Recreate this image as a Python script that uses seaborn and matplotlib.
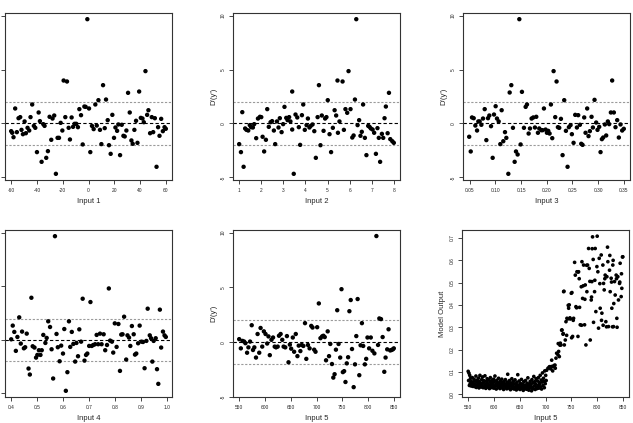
import matplotlib
matplotlib.use("Agg")
import matplotlib.pyplot as plt
import seaborn as sns

# data
input1 = [-60.0, -59.2, -58.2, -56.9, -55.6, -54.3, -53.0, -52.0, -50.9, -49.6, -48.6, -47.3, -46.0, -45.0, -43.7,
          -42.4, -41.3, -40.0, -38.7, -37.7, -36.4, -35.1, -34.1, -32.8, -31.5, -30.2, -28.9, -27.9, -26.6, -25.3,
          -24.0, -22.9, -21.6, -20.3, -19.3, -18.0, -16.7, -15.4, -14.4, -13.1, -12.0, -10.8, -9.5, -8.2, -7.1,
          -5.8, -4.5, -3.2, -2.2, -0.9, 0.4, 1.4, 2.7, 4.0, 5.3, 6.4, 7.7, 8.9, 10.0, 11.3, 12.6, 13.6, 14.9,
          15.9, 17.2, 18.5, 19.8, 20.9, 22.2, 23.2, 24.5, 25.8, 27.1, 28.1, 29.4, 30.7, 32.0, 33.3, 34.3, 35.6,
          36.9, 38.0, 39.3, 40.6, 41.9, 42.9, 44.2, 45.5, 46.5, 47.8, 49.1, 50.2, 51.5, 52.8, 54.0, 55.1, 56.4,
          57.7, 59.0, 60.0]
dprime1 = [-0.71, -0.86, -1.27, 1.39, -0.80, 0.49, 0.59, -0.59, -0.99, 0.19, -0.90, -0.40, -0.65, 0.59, 1.76,
           -0.22, -0.40, -2.65, 1.02, 0.22, -3.55, -0.06, -0.22, -3.18, -2.56, 0.62, -1.51, 0.46, 0.74, -4.66,
           -1.33, -1.33, 0.06, -0.65, 3.98, 0.59, 3.89, -0.40, -1.48, 0.56, -0.31, -0.03, -0.03, -0.34, 1.33,
           0.77, -1.94, 1.57, 1.54, 9.66, 1.39, -2.65, -0.22, -0.52, 1.76, -0.19, 2.16, -0.59, -1.91, 3.55, -0.43,
           2.22, 0.31, -2.01, -2.81, 0.80, -1.33, -0.37, -0.68, -0.09, -2.93, -0.12, -1.14, -1.20, -0.65, 2.84,
           1.02, -1.57, -1.88, -0.59, 0.25, -1.79, 2.96, 0.52, 0.46, 0.12, 4.85, 0.80, 1.23, -0.90, 0.59, -0.80,
           0.49, -4.01, -0.34, -1.14, 0.43, -0.71, -0.34, -0.49]

input2 = [1.00, 1.08, 1.14, 1.20, 1.27, 1.33, 1.41, 1.48, 1.54, 1.62, 1.68, 1.77, 1.85, 1.94, 2.00, 2.06, 2.13,
          2.21, 2.27, 2.34, 2.42, 2.49, 2.57, 2.63, 2.71, 2.78, 2.84, 2.92, 2.99, 3.05, 3.13, 3.19, 3.26, 3.32,
          3.40, 3.40, 3.47, 3.55, 3.63, 3.70, 3.76, 3.84, 3.90, 3.97, 4.05, 4.11, 4.18, 4.24, 4.32, 4.40, 4.47,
          4.55, 4.61, 4.68, 4.74, 4.82, 4.89, 4.95, 5.01, 5.09, 5.16, 5.24, 5.32, 5.39, 5.45, 5.47, 5.54, 5.68,
          5.74, 5.81, 5.89, 5.95, 6.04, 6.12, 6.18, 6.24, 6.30, 6.36, 6.43, 6.49, 6.55, 6.61, 6.69, 6.76, 6.84,
          6.90, 6.96, 7.04, 7.11, 7.19, 7.26, 7.32, 7.38, 7.46, 7.52, 7.58, 7.64, 7.72, 7.78, 7.84, 7.93, 8.00]
dprime2 = [-1.91, -2.65, 1.05, -4.01, -0.46, -0.59, -0.65, -0.15, -0.34, -0.37, -0.06, -1.36, 0.46, 0.62, 0.59,
           -1.23, -2.59, -1.51, 1.33, -0.31, 0.12, 0.22, -0.65, -1.91, 0.19, -0.37, 0.49, -0.80, -0.06, 1.54,
           0.52, 0.31, 0.59, 0.19, -0.56, 2.96, -4.66, 0.83, 0.56, -0.34, -1.98, 0.77, 1.76, -0.59, -0.15, 0.46,
           -0.37, -0.22, -0.09, -0.71, -3.18, 0.59, 3.55, -2.01, 0.74, -0.68, 0.46, 0.59, 2.16, -0.99, -2.65,
           -0.40, 1.23, 0.74, 3.98, -0.86, 0.19, 3.89, -0.59, 1.33, 0.99, 4.85, 1.33, -1.30, -1.11, 2.22, 9.66,
           -0.15, 0.31, -1.14, -0.77, 1.76, -1.33, -2.93, -0.22, -0.31, -0.46, -0.56, -0.86, -2.81, -0.43, -1.33,
           -3.55, -0.96, -1.33, 0.49, 1.57, -0.90, 2.84, -1.45, -1.64, -1.79]

input3 = [0.049, 0.052, 0.0545, 0.0578, 0.0610, 0.0643, 0.0668, 0.0694, 0.0727, 0.0759, 0.0792, 0.0824, 0.0856,
          0.0882, 0.0915, 0.0947, 0.0973, 0.1005, 0.1031, 0.1064, 0.1096, 0.1122, 0.1154, 0.1187, 0.1213, 0.1252,
          0.1278, 0.1310, 0.1342, 0.1375, 0.1401, 0.1433, 0.1466, 0.1491, 0.1517, 0.1556, 0.1589, 0.1615, 0.1647,
          0.1673, 0.1705, 0.1738, 0.1770, 0.1796, 0.1828, 0.1854, 0.1893, 0.1919, 0.1945, 0.1977, 0.2003, 0.2029,
          0.2055, 0.2081, 0.2107, 0.2133, 0.2165, 0.2191, 0.2217, 0.2243, 0.2276, 0.2308, 0.2340, 0.2373, 0.2405,
          0.2431, 0.2463, 0.2489, 0.2522, 0.2554, 0.2587, 0.2612, 0.2645, 0.2671, 0.2697, 0.2729, 0.2755, 0.2787,
          0.2813, 0.2839, 0.2872, 0.2898, 0.2930, 0.2962, 0.2988, 0.3021, 0.3047, 0.3073, 0.3098, 0.3131, 0.3157,
          0.3189, 0.3215, 0.3248, 0.3273, 0.3306, 0.3338, 0.3371, 0.3403, 0.3436, 0.3468, 0.3500]
dprime3 = [-1.23, -2.59, 0.56, 0.49, -0.19, -0.65, 0.19, 0.19, -0.12, 0.46, 1.33, -1.54, 0.49, 0.74, -0.25,
           -3.18, 0.83, 1.60, 0.46, 0.19, -1.91, 1.23, -1.64, -0.80, -1.33, -4.66, 2.87, 3.55, -0.40, -3.55,
           -2.59, -2.87, 9.66, -1.94, 2.93, -0.40, 1.54, 1.76, -0.93, -0.46, 0.46, 0.56, -0.37, 0.62, -0.86,
           -0.46, -0.62, -0.62, 1.39, -0.56, -0.86, -0.68, -0.93, 1.76, -1.36, 4.85, 0.59, 3.89, -0.34, -0.40,
           0.43, -2.93, 2.16, -0.68, -4.01, -0.34, -0.15, -0.99, -1.79, 0.80, -0.37, 0.77, -0.12, -1.88, -1.98,
           0.56, -0.86, 1.39, -1.17, -0.71, 0.62, -0.37, 2.19, 0.09, -0.59, -0.31, -2.65, -1.45, -1.30, -0.09,
           -1.11, 0.19, -0.06, 1.02, 3.98, 1.02, -0.34, 0.31, -1.30, -0.09, -0.65, -0.49]

input4 = [0.400, 0.406, 0.412, 0.418, 0.424, 0.431, 0.437, 0.442, 0.449, 0.454, 0.460, 0.467, 0.472, 0.478, 0.483,
          0.490, 0.496, 0.501, 0.507, 0.513, 0.518, 0.524, 0.532, 0.537, 0.543, 0.550, 0.556, 0.562, 0.569, 0.575,
          0.580, 0.587, 0.593, 0.600, 0.605, 0.611, 0.617, 0.623, 0.628, 0.634, 0.640, 0.647, 0.652, 0.658, 0.663,
          0.670, 0.676, 0.683, 0.689, 0.694, 0.701, 0.706, 0.711, 0.717, 0.724, 0.730, 0.736, 0.743, 0.749, 0.757,
          0.763, 0.770, 0.777, 0.782, 0.789, 0.794, 0.800, 0.807, 0.814, 0.820, 0.825, 0.830, 0.836, 0.844, 0.849,
          0.855, 0.860, 0.866, 0.873, 0.878, 0.883, 0.890, 0.896, 0.903, 0.909, 0.915, 0.922, 0.927, 0.935, 0.940,
          0.945, 0.950, 0.958, 0.963, 0.968, 0.974, 0.979, 0.986, 0.992, 0.997]
dprime4 = [0.06, 1.34, 0.75, -1.02, 0.28, 2.11, -0.34, 0.78, -0.78, -0.68, 0.59, -2.67, -3.23, 3.94, -0.59,
           -0.71, -1.65, -1.40, -0.96, -1.40, -0.96, 0.47, -0.28, 0.19, 1.74, 1.21, -0.87, -3.60, 9.69, 0.56,
           -0.68, -1.99, -0.53, -1.27, 1.02, -4.75, -3.01, 1.74, -0.65, 0.75, -0.37, -2.02, -0.28, -1.52, 0.99,
           -0.16, 3.85, -1.93, -1.40, -1.27, -0.56, 3.54, -0.56, -0.47, -0.40, 0.47, -0.40, 0.59, -0.40, 0.53,
           -0.96, -0.47, 4.81, -0.06, -0.16, -1.18, 1.55, -0.65, 1.49, -2.89, 0.50, 0.53, 2.17, -1.83, 0.43,
           0.22, -0.56, 1.30, 0.53, -1.37, -1.27, -0.31, 1.34, -0.16, -0.19, -2.64, -0.09, 2.92, 0.43, 0.16,
           -2.02, -0.09, 0.16, -2.73, -4.10, 2.83, -0.71, 0.78, 0.43, 0.28]

input5 = [550.0, 553.2, 556.4, 559.6, 562.1, 565.3, 567.9, 571.1, 574.3, 576.8, 579.4, 582.6, 585.7, 588.9, 591.5,
          594.7, 597.9, 601.1, 604.3, 606.8, 609.4, 612.6, 615.7, 618.9, 621.5, 624.7, 627.2, 630.4, 633.6, 636.2,
          639.4, 642.6, 645.7, 648.3, 650.9, 654.0, 656.6, 659.8, 663.0, 665.5, 668.7, 671.3, 674.5, 677.7, 680.2,
          683.4, 686.6, 689.8, 692.3, 695.5, 698.1, 701.3, 704.5, 707.7, 710.9, 713.4, 716.0, 718.5, 721.7, 724.3,
          726.8, 730.0, 732.6, 735.1, 737.7, 740.2, 742.8, 746.0, 748.5, 751.1, 753.6, 756.2, 758.7, 761.3, 763.8,
          766.4, 768.9, 772.1, 774.7, 777.2, 779.8, 783.0, 785.5, 788.1, 790.6, 793.8, 796.4, 798.9, 802.1, 805.3,
          808.5, 812.3, 816.2, 819.4, 821.9, 825.1, 828.3, 831.5, 834.0, 837.2, 839.8, 843.0, 845.5, 848.1, 850.0]
dprime5 = [0.28, -0.56, 0.12, 0.06, -0.09, -0.96, -0.47, 0.06, 1.55, -0.71, -0.47, -1.40, 0.75, -0.96, 1.30,
           -0.40, 0.99, 0.75, -0.12, 0.53, -1.18, 0.22, 0.43, -0.40, -0.47, -0.40, 0.59, 0.75, 0.22, -0.40,
           -0.47, 0.56, -1.83, -0.22, -0.59, 0.43, -0.87, 0.75, -1.27, -0.31, -0.81, -0.25, -0.34, 1.74, -1.52,
           -0.25, -0.56, 1.49, 1.34, -0.68, -0.87, 1.37, 3.54, 0.37, 0.53, 0.59, 0.47, -1.65, 0.99, -1.27,
           -0.16, -1.99, -3.23, -2.92, -0.68, 2.92, -0.16, -1.40, 4.84, -2.73, -2.64, -3.63, -1.93, -1.37, 2.83,
           3.85, -0.62, -4.10, -2.02, 0.56, 3.94, -3.01, -0.28, 1.74, -0.34, -2.02, -1.52, 0.43, -0.56, 0.43,
           -0.78, -1.02, 9.69, -0.25, 2.17, 2.11, 0.47, -2.70, -1.40, -0.65, 1.18, -0.75, -0.71, -0.65, -0.56]

input5_out = [550.0, 550.8, 551.5, 552.3, 553.0, 553.9, 554.6, 555.5, 556.2, 557.0, 558.1, 558.8, 559.6, 560.5,
              561.3, 562.2, 563.0, 564.1, 565.0, 565.8, 566.7, 567.5, 568.4, 569.3, 570.2, 571.0, 571.9, 572.8,
              573.6, 574.5, 575.4, 576.3, 577.1, 578.0, 579.0, 579.8, 580.7, 581.6, 582.5, 583.3, 584.2, 585.1,
              586.0, 586.9, 587.7, 588.6, 589.5, 590.4, 591.3, 592.2, 593.0, 593.9, 594.8, 595.7, 596.6, 597.5,
              598.3, 599.2, 600.1, 601.0, 601.9, 602.8, 603.6, 604.5, 605.4, 606.3, 607.2, 608.1, 609.0, 609.8,
              610.7, 611.6, 612.5, 613.4, 614.3, 615.2, 616.0, 616.9, 617.8, 618.7, 619.6, 620.5, 621.4, 622.2,
              623.1, 624.0, 624.9, 625.8, 626.7, 627.6, 628.5, 629.3, 630.2, 631.1, 632.0, 632.9, 633.8, 634.7,
              635.6, 636.4, 637.3, 638.2, 639.1, 640.0, 640.9, 641.8, 642.7, 643.5, 644.4, 645.3, 646.2, 647.1,
              648.0, 648.9, 649.8, 650.6, 651.5, 652.4, 653.3, 654.2, 655.1, 656.0, 656.9, 657.8, 658.6, 659.5,
              660.4, 661.3, 662.2, 663.1, 664.0, 664.9, 665.8, 666.6, 667.5, 668.4, 669.3, 670.2, 671.1, 672.0,
              672.9, 673.7, 674.6, 675.5, 676.4, 677.3, 678.2, 679.1, 680.0, 680.8, 681.7, 682.6, 683.5, 684.4,
              685.3, 686.2, 687.1, 688.0, 688.8, 689.7, 690.6, 691.5, 692.4, 693.3, 694.2, 695.1, 696.0, 696.8,
              697.7, 698.6, 699.5, 700.4, 701.3, 702.3, 704.8, 707.4, 708.7, 710.0, 712.0, 712.6, 713.9, 715.2,
              716.5, 718.4, 719.0, 720.3, 721.6, 724.2, 724.7, 725.5, 726.8, 728.0, 728.7, 730.0, 731.3, 732.0,
              734.0, 734.4, 735.2, 735.8, 736.5, 738.4, 739.7, 741.0, 741.6, 742.9, 744.1, 744.9, 746.1, 747.4,
              748.1, 750.0, 750.7, 751.3, 752.6, 753.8, 754.5, 756.5, 757.8, 759.0, 760.3, 761.0, 763.0, 763.4,
              764.2, 765.4, 766.1, 767.4, 769.4, 770.0, 770.7, 772.0, 773.1, 773.9, 775.8, 776.4, 777.1, 778.4,
              779.7, 780.3, 781.6, 783.6, 784.8, 786.1, 786.8, 788.7, 789.3, 790.0, 790.6, 791.3, 792.5, 793.2,
              795.2, 795.7, 796.4, 797.7, 799.7, 800.3, 801.6, 802.9, 804.2, 805.4, 806.1, 808.1, 808.7, 809.4,
              811.3, 811.8, 812.6, 813.9, 815.1, 815.8, 817.1, 818.4, 819.1, 820.3, 821.0, 822.3, 824.2, 824.8,
              825.5, 827.4, 828.1, 828.7, 830.0, 830.6, 831.2, 831.9, 832.5, 833.9, 835.2, 837.1, 837.7, 838.4,
              838.9, 840.3, 841.6, 843.6, 844.1, 844.8, 846.8, 847.4, 848.1, 849.3, 850.0]
model_output = [0.103, 0.062, 0.095, 0.040, 0.085, 0.048, 0.072, 0.038, 0.058, 0.041, 0.075, 0.036, 0.052, 0.044,
                0.068, 0.035, 0.060, 0.043, 0.082, 0.031, 0.055, 0.064, 0.038, 0.047, 0.073, 0.029, 0.057, 0.085,
                0.040, 0.050, 0.033, 0.066, 0.045, 0.078, 0.030, 0.054, 0.061, 0.036, 0.083, 0.044, 0.027, 0.058,
                0.039, 0.070, 0.048, 0.032, 0.064, 0.041, 0.026, 0.055, 0.075, 0.035, 0.047, 0.062, 0.030, 0.051,
                0.040, 0.068, 0.028, 0.057, 0.082, 0.037, 0.046, 0.024, 0.063, 0.042, 0.053, 0.031, 0.072, 0.038,
                0.049, 0.026, 0.060, 0.035, 0.045, 0.068, 0.029, 0.052, 0.040, 0.022, 0.058, 0.037, 0.047, 0.066,
                0.030, 0.043, 0.025, 0.055, 0.090, 0.034, 0.048, 0.028, 0.062, 0.039, 0.021, 0.051, 0.036, 0.070,
                0.027, 0.044, 0.058, 0.032, 0.024, 0.047, 0.065, 0.030, 0.039, 0.020, 0.054, 0.033, 0.088, 0.042,
                0.026, 0.060, 0.035, 0.022, 0.049, 0.031, 0.067, 0.038, 0.025, 0.045, 0.018, 0.057, 0.033, 0.041,
                0.027, 0.062, 0.036, 0.023, 0.050, 0.030, 0.074, 0.040, 0.019, 0.047, 0.028, 0.058, 0.034, 0.044,
                0.016, 0.066, 0.030, 0.052, 0.025, 0.080, 0.038, 0.057, 0.022, 0.046, 0.070, 0.032, 0.026, 0.060,
                0.040, 0.075, 0.028, 0.052, 0.045, 0.085, 0.033, 0.064, 0.024, 0.055, 0.096, 0.040, 0.072, 0.058,
                0.030, 0.105, 0.048, 0.085, 0.062, 0.108, 0.117, 0.123, 0.124, 0.114, 0.153, 0.125, 0.105, 0.124,
                0.129, 0.131, 0.117, 0.162, 0.184, 0.177, 0.227, 0.192, 0.169, 0.220, 0.229, 0.221, 0.287, 0.288,
                0.269, 0.272, 0.459, 0.461, 0.221, 0.243, 0.325, 0.264, 0.340, 0.337, 0.398, 0.385, 0.400, 0.342,
                0.337, 0.452, 0.253, 0.455, 0.259, 0.331, 0.340, 0.590, 0.533, 0.392, 0.387, 0.548, 0.259, 0.547,
                0.548, 0.517, 0.389, 0.311, 0.481, 0.309, 0.593, 0.429, 0.485, 0.578, 0.311, 0.425, 0.489, 0.221,
                0.577, 0.459, 0.578, 0.652, 0.563, 0.505, 0.243, 0.422, 0.435, 0.504, 0.651, 0.704, 0.603, 0.322,
                0.459, 0.510, 0.652, 0.370, 0.571, 0.707, 0.548, 0.296, 0.608, 0.495, 0.385, 0.623, 0.331, 0.363,
                0.578, 0.309, 0.496, 0.467, 0.517, 0.533, 0.325, 0.302, 0.526, 0.658, 0.593, 0.303, 0.555, 0.621,
                0.459, 0.519, 0.502, 0.385, 0.302, 0.578, 0.599, 0.303, 0.406, 0.504, 0.444, 0.533, 0.517, 0.340,
                0.300, 0.526, 0.422, 0.496, 0.502, 0.586, 0.437, 0.539, 0.474, 0.614, 0.615]

panels = [
    (input1, dprime1, "Input 1", [-60, -40, -20, 0, 20, 40, 60], None),
    (input2, dprime2, "Input 2", [1, 2, 3, 4, 5, 6, 7, 8], None),
    (input3, dprime3, "Input 3", [0.05, 0.10, 0.15, 0.20, 0.25, 0.30, 0.35], "%.2f"),
    (input4, dprime4, "Input 4", [0.4, 0.5, 0.6, 0.7, 0.8, 0.9, 1.0], "%.1f"),
    (input5, dprime5, "Input 5", [550, 600, 650, 700, 750, 800, 850], None),
]

sns.set_style("ticks")
plt.rcParams['font.family'] = ['Liberation Sans', 'DejaVu Sans']
plt.rcParams['axes.linewidth'] = 0.8
plt.rcParams['xtick.major.size'] = 3
plt.rcParams['ytick.major.size'] = 3
plt.rcParams['xtick.major.width'] = 0.6
plt.rcParams['ytick.major.width'] = 0.6


def rlim(v):
    # R style axis range: data range plus 4% on each side
    lo, hi = min(v), max(v)
    pad = 0.04 * (hi - lo)
    return lo - pad, hi + pad


def style(ax, xlabel, ylabel, xticks, yticks, xfmt, yfmt, ylabels=True):
    ax.set_xticks(xticks)
    ax.set_yticks(yticks)
    ax.set_xticklabels([(xfmt % t) if xfmt else str(t) for t in xticks], fontsize=3.5)
    if ylabels:
        ax.set_yticklabels([(yfmt % t) if yfmt else str(t) for t in yticks], fontsize=3.5,
                           rotation=90, va='center')
        ax.set_ylabel(ylabel, fontsize=5.5, labelpad=3)
    else:
        # the left column is cropped in the original: its y labels sit off the canvas
        ax.set_yticklabels([])
        ax.set_ylabel("")
    ax.tick_params(axis='x', pad=2.5)
    ax.tick_params(axis='y', pad=2)
    ax.set_xlabel(xlabel, fontsize=5.5, labelpad=4)
    for s in ax.spines.values():
        s.set_visible(True)
        s.set_color('#333333')


fig = plt.figure(figsize=(6.33, 4.23), dpi=100)
W, H = 633, 423
boxes = [(5, 13), (233, 13), (463, 13), (5, 230), (233, 230), (462, 230)]
pw, ph = 167, 167

for i, (x, y, lab, xt, xf) in enumerate(panels):
    l, t = boxes[i]
    ax = fig.add_axes([l / W, (H - t - ph) / H, pw / W, ph / H])
    ax.axhline(0, color='black', ls=(0, (3, 2)), lw=0.8, zorder=1)
    ax.axhline(2, color='#9a9a9a', ls=(0, (2, 1.5)), lw=0.8, zorder=1)
    ax.axhline(-2, color='#9a9a9a', ls=(0, (2, 1.5)), lw=0.8, zorder=1)
    sns.scatterplot(x=x, y=y, ax=ax, color='black', s=10, edgecolor='none', zorder=3)
    ax.set_xlim(*rlim(x))
    ax.set_ylim(*rlim(y))
    style(ax, lab, "D'(y')", xt, [-5, 0, 5, 10], xf, None, ylabels=(l > 100))

l, t = boxes[5]
ax = fig.add_axes([l / W, (H - t - ph) / H, pw / W, ph / H])
sns.scatterplot(x=input5_out, y=model_output, ax=ax, color='black', s=7, edgecolor='none')
ax.set_xlim(*rlim(input5_out))
ax.set_ylim(*rlim(model_output))
style(ax, "Input 5", "Model Output", [550, 600, 650, 700, 750, 800, 850],
      [0.0, 0.1, 0.2, 0.3, 0.4, 0.5, 0.6, 0.7], None, "%.1f")

fig.savefig("out.png", dpi=100)
